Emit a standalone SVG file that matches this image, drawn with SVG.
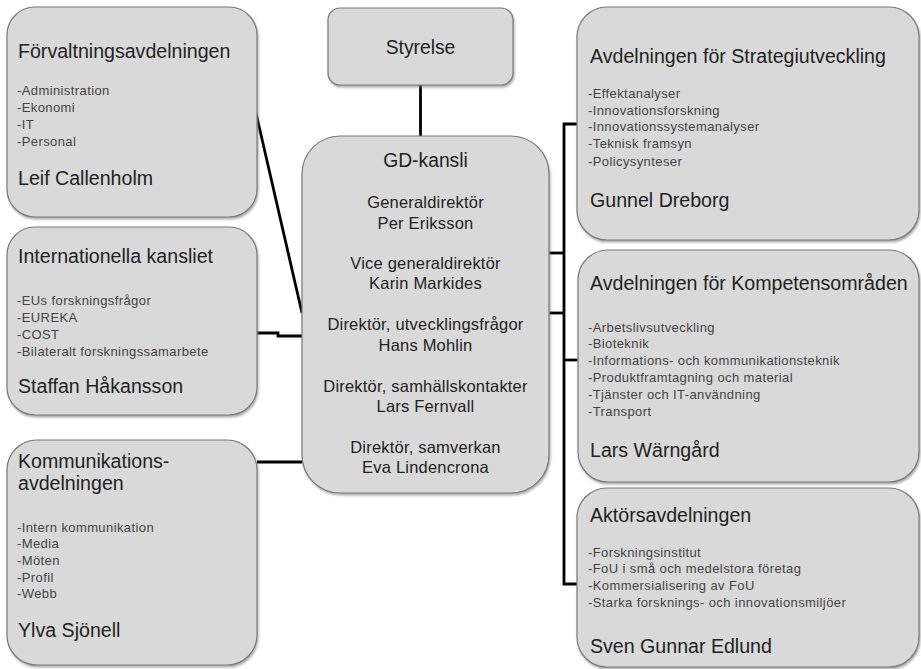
<svg xmlns="http://www.w3.org/2000/svg" width="921" height="669" viewBox="0 0 921 669">
<defs>
<filter id="sh" x="-5%" y="-5%" width="110%" height="115%">
<feDropShadow dx="1" dy="2" stdDeviation="1" flood-color="#777" flood-opacity="0.6"/>
</filter>
</defs>
<style>
.box{fill:#d9d9d9;stroke:#7a7a7a;stroke-width:1.2;filter:url(#sh)}
.t{font-family:"Liberation Sans",Arial,sans-serif;font-size:19.6px;fill:#222}
.s{font-family:"Liberation Sans",Arial,sans-serif;font-size:13px;letter-spacing:0.4px;fill:#444}
.c{font-family:"Liberation Sans",Arial,sans-serif;font-size:16.5px;letter-spacing:0.2px;fill:#222;text-anchor:middle}
.ct{font-family:"Liberation Sans",Arial,sans-serif;font-size:19.3px;fill:#222;text-anchor:middle}
.ln{fill:none;stroke:#000;stroke-width:2.8}
</style>
<rect width="921" height="669" fill="#fff"/>
<g id="connectors">
<line class="ln" x1="420.5" y1="85" x2="420.5" y2="136"/>
<line class="ln" x1="256" y1="113" x2="302" y2="313"/>
<polyline class="ln" points="257,333 278,333 278,336 302,336"/>
<line class="ln" x1="257" y1="462" x2="302" y2="462"/>
<line class="ln" x1="549" y1="253" x2="564" y2="253"/>
<line class="ln" x1="549" y1="313" x2="564" y2="313"/>
<polyline class="ln" points="577,124 564,124 564,584 577,584"/>
<line class="ln" x1="564" y1="360" x2="578" y2="360"/>
</g>
<g id="styrelse">
<rect class="box" x="328" y="8" width="185" height="77" rx="12"/>
<text class="ct" x="420.5" y="54">Styrelse</text>
</g>
<g id="gd-kansli">
<rect class="box" x="302" y="136" width="247" height="357" rx="38"/>
<text class="ct" x="425.5" y="167">GD-kansli</text>
<text class="c" x="425.5" y="208">Generaldirektör</text>
<text class="c" x="425.5" y="229">Per Eriksson</text>
<text class="c" x="425.5" y="269">Vice generaldirektör</text>
<text class="c" x="425.5" y="289">Karin Markides</text>
<text class="c" x="425.5" y="330">Direktör, utvecklingsfrågor</text>
<text class="c" x="425.5" y="351">Hans Mohlin</text>
<text class="c" x="425.5" y="392">Direktör, samhällskontakter</text>
<text class="c" x="425.5" y="412">Lars Fernvall</text>
<text class="c" x="425.5" y="453">Direktör, samverkan</text>
<text class="c" x="425.5" y="473">Eva Lindencrona</text>
</g>
<g id="forvaltning">
<rect class="box" x="7" y="7" width="250" height="210" rx="28"/>
<text class="t" x="18" y="58">Förvaltningsavdelningen</text>
<text class="s" x="17" y="95">-Administration</text>
<text class="s" x="17" y="112">-Ekonomi</text>
<text class="s" x="17" y="129">-IT</text>
<text class="s" x="17" y="146">-Personal</text>
<text class="t" x="18" y="185">Leif Callenholm</text>
</g>
<g id="internationella">
<rect class="box" x="7" y="227" width="250" height="188" rx="28"/>
<text class="t" x="18" y="263">Internationella kansliet</text>
<text class="s" x="17" y="305">-EUs forskningsfrågor</text>
<text class="s" x="17" y="322">-EUREKA</text>
<text class="s" x="17" y="339">-COST</text>
<text class="s" x="17" y="356">-Bilateralt forskningssamarbete</text>
<text class="t" x="18" y="393">Staffan Håkansson</text>
</g>
<g id="kommunikation">
<rect class="box" x="7" y="440" width="250" height="225" rx="30"/>
<text class="t" x="18" y="468">Kommunikations-</text>
<text class="t" x="18" y="490">avdelningen</text>
<text class="s" x="17" y="532">-Intern kommunikation</text>
<text class="s" x="17" y="548">-Media</text>
<text class="s" x="17" y="565">-Möten</text>
<text class="s" x="17" y="582">-Profil</text>
<text class="s" x="17" y="598">-Webb</text>
<text class="t" x="18" y="637">Ylva Sjönell</text>
</g>
<g id="strategi">
<rect class="box" x="577" y="7" width="342" height="233" rx="30"/>
<text class="t" x="590" y="63">Avdelningen för Strategiutveckling</text>
<text class="s" x="588" y="98">-Effektanalyser</text>
<text class="s" x="588" y="115">-Innovationsforskning</text>
<text class="s" x="588" y="131">-Innovationssystemanalyser</text>
<text class="s" x="588" y="148">-Teknisk framsyn</text>
<text class="s" x="588" y="166">-Policysynteser</text>
<text class="t" x="590" y="207">Gunnel Dreborg</text>
</g>
<g id="kompetens">
<rect class="box" x="578" y="250" width="341" height="232" rx="30"/>
<text class="t" x="590" y="290">Avdelningen för Kompetensområden</text>
<text class="s" x="588" y="332">-Arbetslivsutveckling</text>
<text class="s" x="588" y="348">-Bioteknik</text>
<text class="s" x="588" y="365">-Informations- och kommunikationsteknik</text>
<text class="s" x="588" y="382">-Produktframtagning och material</text>
<text class="s" x="588" y="399">-Tjänster och IT-användning</text>
<text class="s" x="588" y="416">-Transport</text>
<text class="t" x="590" y="457">Lars Wärngård</text>
</g>
<g id="aktors">
<rect class="box" x="577" y="488" width="342" height="179" rx="30"/>
<text class="t" x="590" y="522">Aktörsavdelningen</text>
<text class="s" x="588" y="557">-Forskningsinstitut</text>
<text class="s" x="588" y="573">-FoU i små och medelstora företag</text>
<text class="s" x="588" y="590">-Kommersialisering av FoU</text>
<text class="s" x="588" y="607">-Starka forsknings- och innovationsmiljöer</text>
<text class="t" x="590" y="653">Sven Gunnar Edlund</text>
</g>
</svg>
